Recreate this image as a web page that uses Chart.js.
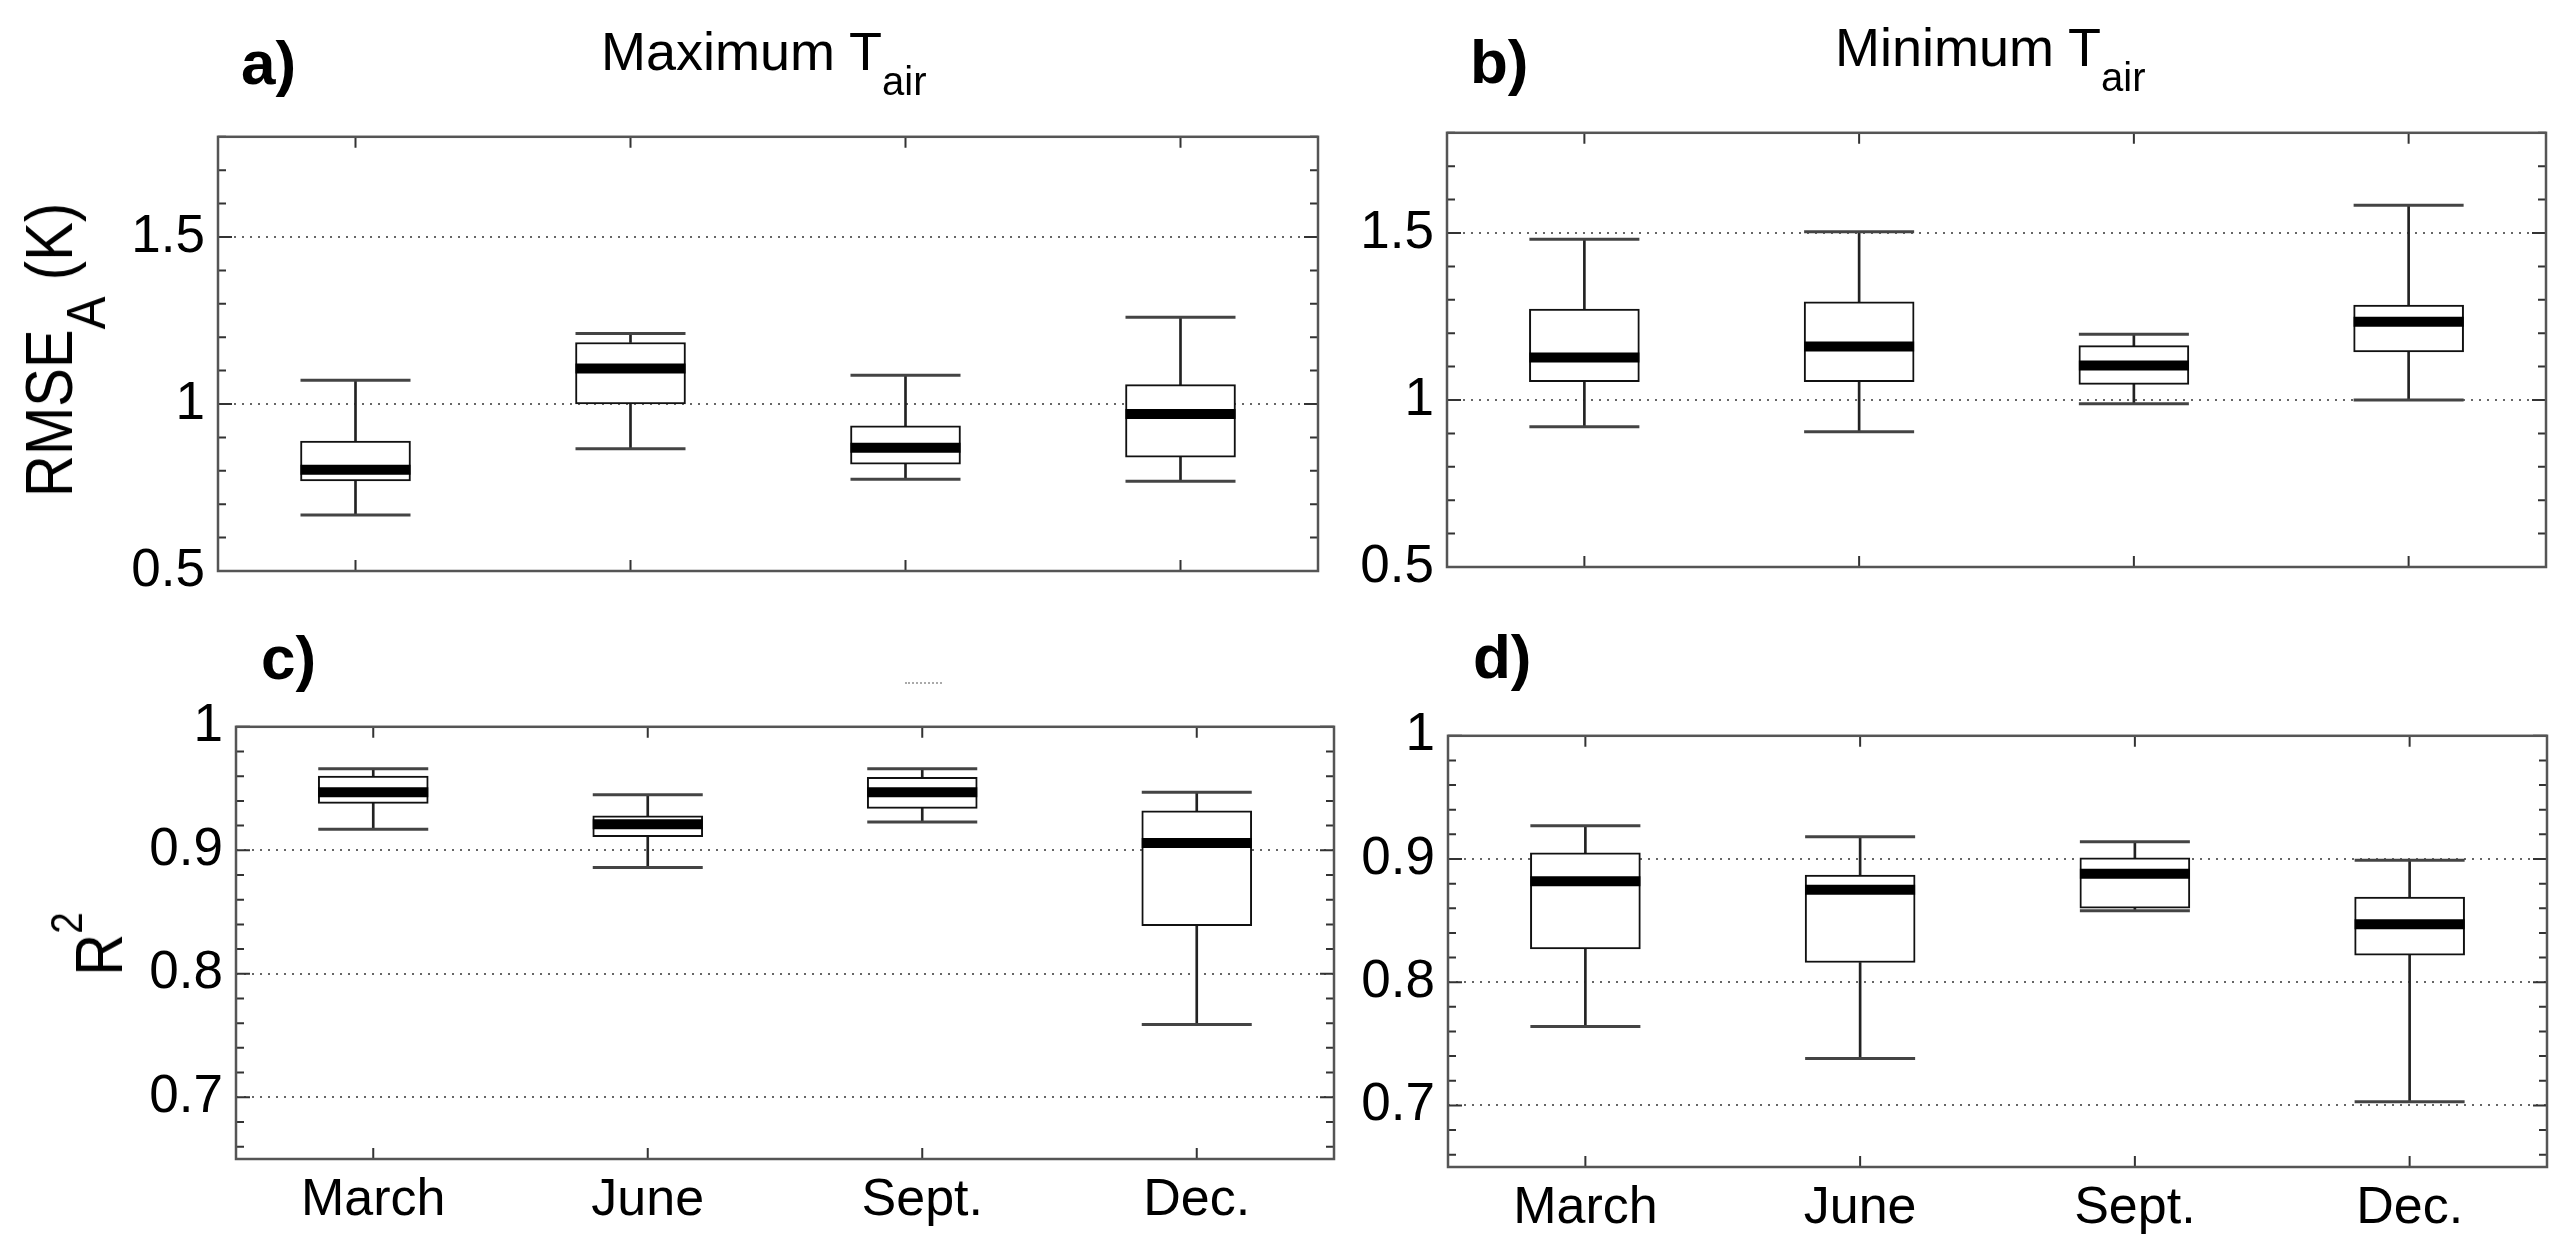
<!DOCTYPE html>
<html>
<head>
<meta charset="utf-8">
<script src="https://cdn.jsdelivr.net/npm/chart.js@4"></script>
<style>
html,body{margin:0;padding:0;background:#fff;}
#wrap{position:relative;width:2575px;height:1255px;background:#fff;overflow:hidden;font-family:"Liberation Sans",Arial,Helvetica,sans-serif;color:#000;}
canvas{position:absolute;}
.lbl{position:absolute;font-weight:bold;font-size:62px;line-height:1;white-space:nowrap;}
.ttl{position:absolute;font-size:54px;line-height:1;white-space:nowrap;}
.ttl span{font-size:40px;position:relative;top:25px;}
.ylab{position:absolute;font-size:66px;line-height:1;white-space:nowrap;transform:translate(-50%,-50%) rotate(-90deg) scaleX(0.88);}
.ylab .sb{font-size:56px;position:relative;top:33px;}
.ylab .sp{font-size:44px;position:relative;top:-40px;}
</style>
</head>
<body>
<div id="wrap">
  <canvas id="ca"></canvas>
  <canvas id="cb"></canvas>
  <canvas id="cc"></canvas>
  <canvas id="cd"></canvas>
  <div class="lbl" style="left:241px;top:32px;">a)</div>
  <div class="lbl" style="left:1470px;top:31px;">b)</div>
  <div class="lbl" style="left:261px;top:627px;">c)</div>
  <div class="lbl" style="left:1473px;top:626px;">d)</div>
  <div class="ttl" style="left:601px;top:24px;">Maximum T<span>air</span></div>
  <div class="ttl" style="left:1835px;top:20px;">Minimum T<span>air</span></div>
  <div class="ylab" style="left:49px;top:350px;">RMSE<span class="sb">A</span> (K)</div>
  <div class="ylab" style="left:99px;top:944px;">R<span class="sp">2</span></div>
  <div style="position:absolute;left:905px;top:682px;width:37px;border-top:2px dotted #aaa;"></div>
</div>
<script>
// ---------- data ----------
const categories = ['March', 'June', 'Sept.', 'Dec.'];

// a) Maximum Tair, RMSE_A (K)
const maxRmseMin = [0.668, 0.866, 0.775, 0.769];
const maxRmseQ1  = [0.770, 1.000, 0.820, 0.841];
const maxRmseMed = [0.803, 1.106, 0.869, 0.970];
const maxRmseQ3  = [0.889, 1.184, 0.935, 1.058];
const maxRmseMax = [1.071, 1.211, 1.086, 1.260];

// b) Minimum Tair, RMSE_A (K)
const minRmseMin = [0.920, 0.905, 0.989, 1.000];
const minRmseQ1  = [1.055, 1.055, 1.047, 1.144];
const minRmseMed = [1.127, 1.160, 1.103, 1.234];
const minRmseQ3  = [1.272, 1.294, 1.163, 1.284];
const minRmseMax = [1.481, 1.504, 1.197, 1.583];

// c) Maximum Tair, R^2
const maxR2Min = [0.917, 0.886, 0.923, 0.759];
const maxR2Q1  = [0.938, 0.911, 0.934, 0.839];
const maxR2Med = [0.947, 0.921, 0.947, 0.906];
const maxR2Q3  = [0.960, 0.928, 0.959, 0.932];
const maxR2Max = [0.966, 0.945, 0.966, 0.947];

// d) Minimum Tair, R^2
const minR2Min = [0.764, 0.738, 0.858, 0.703];
const minR2Q1  = [0.827, 0.816, 0.860, 0.822];
const minR2Med = [0.882, 0.875, 0.888, 0.847];
const minR2Q3  = [0.905, 0.887, 0.901, 0.869];
const minR2Max = [0.927, 0.918, 0.914, 0.899];

// tick positions / labels
const yTicksAB = [0.5, 0.6, 0.7, 0.8, 0.9, 1.0, 1.1, 1.2, 1.3, 1.4, 1.5, 1.6, 1.7, 1.8];
const yMajorAB = [0.5, 1, 1.5];
const yTicksCD = [0.66, 0.68, 0.70, 0.72, 0.74, 0.76, 0.78, 0.80, 0.82, 0.84, 0.86, 0.88, 0.90, 0.92, 0.94, 0.96, 0.98, 1.00];
const yMajorCD = [0.7, 0.8, 0.9, 1];

// ---------- drawing ----------
const FONT = '"Liberation Sans", Arial, Helvetica, sans-serif';
const isMajor = (v, majors) => majors.some(m => Math.abs(m - v) < 1e-9);

const framePlugin = {
  id: 'frame',
  afterDraw(chart) {
    const { ctx, chartArea: a, scales: { x, y } } = chart;
    const majors = chart.options.plugins.frame.majors;
    ctx.save();
    ctx.lineWidth = 2;
    ctx.strokeStyle = '#333';
    ctx.beginPath();
    x.ticks.forEach((t, i) => {
      const px = x.getPixelForTick(i);
      ctx.moveTo(px, a.bottom); ctx.lineTo(px, a.bottom - 11);
      ctx.moveTo(px, a.top); ctx.lineTo(px, a.top + 11);
    });
    y.ticks.forEach(t => {
      const py = y.getPixelForValue(t.value);
      const len = isMajor(t.value, majors) ? 14 : 8;
      ctx.moveTo(a.left, py); ctx.lineTo(a.left + len, py);
      ctx.moveTo(a.right, py); ctx.lineTo(a.right - len, py);
    });
    ctx.stroke();
    ctx.strokeStyle = '#555';
    ctx.lineWidth = 2.5;
    ctx.strokeRect(a.left, a.top, a.right - a.left, a.bottom - a.top);
    ctx.restore();
  }
};

function makePanel(id, box, bottomExtra, showX, yMin, yMax, yTicks, yMajors, s) {
  const padL = 150, padT = 40, padR = 20;
  const cv = document.getElementById(id);
  const w = box.R - box.L + padL + padR;
  const h = box.B - box.T + padT + bottomExtra;
  cv.width = w; cv.height = h;
  cv.style.width = w + 'px'; cv.style.height = h + 'px';
  cv.style.left = (box.L - padL) + 'px';
  cv.style.top = (box.T - padT) + 'px';

  const capStyle = {
    type: 'line', showLine: false, pointStyle: 'line', pointRadius: 55,
    pointBorderWidth: 3, pointBorderColor: '#444', pointBackgroundColor: '#444'
  };

  new Chart(cv, {
    type: 'bar',
    data: {
      labels: categories,
      datasets: [
        { type: 'line', data: s.med, showLine: false, pointStyle: 'line', pointRadius: 55,
          pointBorderWidth: 10, pointBorderColor: '#000', pointBackgroundColor: '#000' },
        Object.assign({ data: s.max }, capStyle),
        Object.assign({ data: s.min }, capStyle),
        { type: 'bar', data: s.q1.map((v, i) => [v, s.q3[i]]), grouped: false, barThickness: 110,
          backgroundColor: '#fff', borderColor: '#111', borderWidth: 2, borderSkipped: false },
        { type: 'bar', data: s.q3.map((v, i) => [v, s.max[i]]), grouped: false, barThickness: 2,
          backgroundColor: '#222', borderWidth: 0 },
        { type: 'bar', data: s.min.map((v, i) => [v, s.q1[i]]), grouped: false, barThickness: 2,
          backgroundColor: '#222', borderWidth: 0 }
      ]
    },
    options: {
      responsive: false, animation: false, devicePixelRatio: 1, events: [],
      layout: { padding: { left: 0, top: padT, right: padR, bottom: 0 }, autoPadding: false },
      plugins: { legend: { display: false }, tooltip: { enabled: false }, frame: { majors: yMajors } },
      scales: {
        x: {
          type: 'category', offset: true,
          grid: { display: false, drawTicks: false }, border: { display: false },
          ticks: { display: showX, color: '#000', font: { family: FONT, size: 52 }, padding: 10,
                   maxRotation: 0, autoSkip: false },
          afterFit: sc => { sc.height = bottomExtra; }
        },
        y: {
          type: 'linear', min: yMin, max: yMax,
          grid: { drawTicks: false, lineWidth: 2,
                  color: c => (c.tick && isMajor(c.tick.value, yMajors)) ? '#666' : 'rgba(0,0,0,0)' },
          border: { display: false, dash: [2, 6] },
          ticks: { color: '#000', font: { family: FONT, size: 53 }, padding: 13, autoSkip: false,
                   callback: v => isMajor(v, yMajors) ? String(+v.toFixed(2)) : '' },
          afterBuildTicks: sc => { sc.ticks = yTicks.map(v => ({ value: v })); },
          afterFit: sc => { sc.width = padL; }
        }
      }
    },
    plugins: [framePlugin]
  });
}

makePanel('ca', { L: 218, T: 132, R: 1318, B: 571 }, 60, false, 0.5, 1.8, yTicksAB, yMajorAB,
  { min: maxRmseMin, q1: maxRmseQ1, med: maxRmseMed, q3: maxRmseQ3, max: maxRmseMax });
makePanel('cb', { L: 1447, T: 128, R: 2546, B: 567 }, 60, false, 0.5, 1.8, yTicksAB, yMajorAB,
  { min: minRmseMin, q1: minRmseQ1, med: minRmseMed, q3: minRmseQ3, max: minRmseMax });
makePanel('cc', { L: 236, T: 722, R: 1334, B: 1159 }, 90, true, 0.65, 1.0, yTicksCD, yMajorCD,
  { min: maxR2Min, q1: maxR2Q1, med: maxR2Med, q3: maxR2Q3, max: maxR2Max });
makePanel('cd', { L: 1448, T: 731, R: 2547, B: 1167 }, 85, true, 0.65, 1.0, yTicksCD, yMajorCD,
  { min: minR2Min, q1: minR2Q1, med: minR2Med, q3: minR2Q3, max: minR2Max });
</script>
</body>
</html>
